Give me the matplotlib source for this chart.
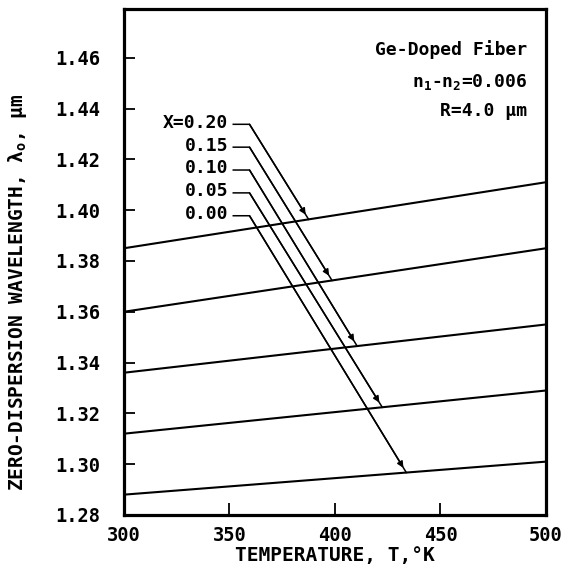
import numpy as np
import matplotlib
matplotlib.use("Agg")
import matplotlib.pyplot as plt

plt.rcParams['font.family'] = ['DejaVu Sans Mono', 'DejaVu Sans']
plt.rcParams['mathtext.fontset'] = 'custom'
plt.rcParams['mathtext.rm'] = 'DejaVu Sans Mono:bold'
plt.rcParams['mathtext.it'] = 'DejaVu Sans Mono:bold'
plt.rcParams['mathtext.bf'] = 'DejaVu Sans Mono:bold'

# ---- data ----
temperature = [300, 500]
x_values = ["0.20", "0.15", "0.10", "0.05", "0.00"]
lambda_300 = [1.385, 1.360, 1.336, 1.312, 1.288]
lambda_500 = [1.411, 1.385, 1.355, 1.329, 1.301]
# temperature where each label's arrow meets its line
arrow_temp = [387.5, 398.6, 410.5, 422.4, 433.8]
# label heights (wavelength units)
label_y = [1.4338, 1.4248, 1.4158, 1.4068, 1.3978]
label_text = ["X=0.20", "0.15", "0.10", "0.05", "0.00"]

xticks = [300, 350, 400, 450, 500]
yticks = [1.28, 1.30, 1.32, 1.34, 1.36, 1.38, 1.40, 1.42, 1.44, 1.46]

fig = plt.figure(figsize=(5.63, 5.72), dpi=100)
ax = fig.add_axes([0.2202, 0.0997, 0.7496, 0.8846])

for y0, y1 in zip(lambda_300, lambda_500):
    ax.plot(temperature, [y0, y1], color='black', lw=1.5, solid_capstyle='butt')

text_x = 349.5
dash_x0 = 351.8
bend_x = 359.5
for i, (lab, ly, tx) in enumerate(zip(label_text, label_y, arrow_temp)):
    ty = np.interp(tx, temperature, [lambda_300[i], lambda_500[i]])
    ax.text(text_x, ly + 0.0006, lab, ha='right', va='center', fontsize=13,
            fontweight='bold')
    ax.plot([dash_x0, bend_x, tx], [ly, ly, ty], color='black', lw=1.1)
    ax.annotate('', xy=(tx, ty), xytext=(bend_x, ly),
                arrowprops=dict(arrowstyle='-|>', color='black', lw=1.1,
                                mutation_scale=9, shrinkA=0, shrinkB=4))

ax.text(0.955, 0.919, 'Ge-Doped Fiber', transform=ax.transAxes, ha='right',
        va='center', fontsize=13, fontweight='bold')
ax.text(0.955, 0.856, r'n$_1$-n$_2$=0.006', transform=ax.transAxes, ha='right',
        va='center', fontsize=13, fontweight='bold')
ax.text(0.955, 0.798, 'R=4.0 μm', transform=ax.transAxes, ha='right',
        va='center', fontsize=13, fontweight='bold')

ax.set_xlim(300, 500)
ax.set_ylim(1.2806, 1.4792)
ax.set_xticks(xticks)
ax.set_yticks(yticks)
ax.set_xticklabels([str(v) for v in xticks], fontsize=13.5, fontweight='bold')
ax.set_yticklabels(["%.2f" % v for v in yticks], fontsize=13.5, fontweight='bold')
ax.tick_params(axis='y', direction='in', length=8, width=1.3, pad=17)
ax.tick_params(axis='x', direction='in', length=9, width=1.3, pad=8)
for s in ax.spines.values():
    s.set_linewidth(2.3)

ax.set_xlabel('TEMPERATURE, T,°K', fontsize=14, fontweight='bold', labelpad=1)
ax.set_ylabel(r'ZERO-DISPERSION WAVELENGTH, λ$_o$, μm', fontsize=14,
              fontweight='bold')
ax.yaxis.set_label_coords(-0.225, 0.44)

fig.savefig('out.png', dpi=100, facecolor='white')
